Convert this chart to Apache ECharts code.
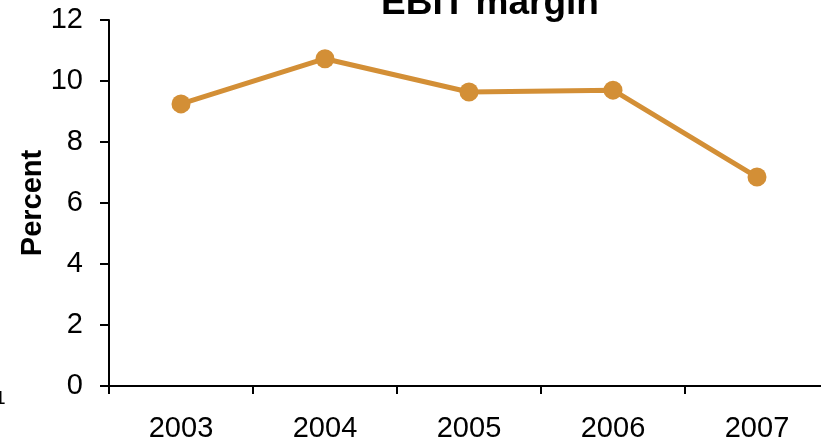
<!DOCTYPE html>
<html>
<head>
<meta charset="utf-8">
<script src="https://cdn.jsdelivr.net/npm/echarts@6/dist/echarts.min.js"></script>
<style>html,body{margin:0;padding:0;background:#fff}#c{width:821px;height:447px}</style>
</head>
<body>
<div id="c"></div>
<script>
var categories = ['2003', '2004', '2005', '2006', '2007'];
var ebitMargin = [9.25, 10.73, 9.64, 9.7, 6.85];
var yTicks = [0, 2, 4, 6, 8, 10, 12];

var chart = echarts.init(document.getElementById('c'));
chart.setOption({
  animation: false,
  backgroundColor: '#fff',
  title: {
    text: 'EBIT margin',
    left: 485, top: -20, textAlign: 'center',
    textStyle: { fontFamily: 'Liberation Sans', fontWeight: 'bold', fontSize: 37, color: '#000' }
  },
  graphic: [{
    type: 'text', x: -5, y: 389,
    style: { text: '1', fontFamily: 'Liberation Sans', fontSize: 19, fill: '#000', verticalAlign: 'top', align: 'left' }
  }],
  grid: { left: 109, width: 720, top: 20, bottom: 61, containLabel: false, outerBoundsMode: 'none' },
  xAxis: {
    type: 'category',
    data: categories,
    boundaryGap: true,
    axisLine: { lineStyle: { color: '#000', width: 2 } },
    axisTick: { show: true, inside: false, length: 8, lineStyle: { color: '#000', width: 2 } },
    axisLabel: { margin: 28, color: '#000', fontFamily: 'Liberation Sans', fontSize: 29 }
  },
  yAxis: {
    type: 'value',
    min: yTicks[0], max: yTicks[yTicks.length - 1], interval: 2,
    name: 'Percent', nameLocation: 'middle', nameGap: 62, nameRotate: 90, nameMoveOverlap: false,
    nameTextStyle: { fontFamily: 'Liberation Sans', fontWeight: 'bold', fontSize: 29, color: '#000' },
    axisLine: { show: true, lineStyle: { color: '#000', width: 2 } },
    axisTick: { show: true, inside: false, length: 9, lineStyle: { color: '#000', width: 2 } },
    axisLabel: { margin: 26, color: '#000', fontFamily: 'Liberation Sans', fontSize: 29 },
    splitLine: { show: false }
  },
  series: [{
    type: 'line',
    data: ebitMargin,
    symbol: 'circle', symbolSize: 19,
    lineStyle: { color: '#D38F36', width: 5 },
    itemStyle: { color: '#D38F36' }
  }]
});
</script>
</body>
</html>
